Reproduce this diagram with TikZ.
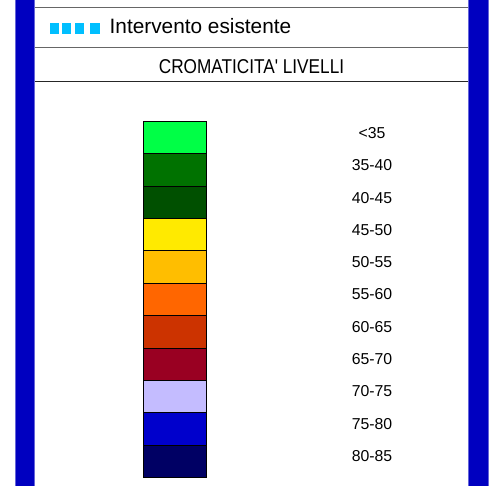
\documentclass[tikz,border=0pt]{standalone}
\usepackage{fontspec}
\setmainfont{Liberation Sans}
\definecolor{barblue}{RGB}{0,0,192}
\definecolor{cyanleg}{RGB}{0,191,255}
\definecolor{c1}{RGB}{0,255,70}
\definecolor{c2}{RGB}{0,114,0}
\definecolor{c3}{RGB}{0,80,0}
\definecolor{c4}{RGB}{255,234,0}
\definecolor{c5}{RGB}{255,190,0}
\definecolor{c6}{RGB}{255,102,0}
\definecolor{c7}{RGB}{204,51,0}
\definecolor{c8}{RGB}{153,0,34}
\definecolor{c9}{RGB}{196,188,255}
\definecolor{c10}{RGB}{0,0,204}
\definecolor{c11}{RGB}{0,0,100}
\begin{document}
\begin{tikzpicture}[x=1pt,y=-1pt,
  sideline/.style={draw=black!85,line width=0.9pt},
  bar/.style={fill=barblue,draw=barblue!60!white,line width=0.5pt},
  legsq/.style={fill=cyanleg,draw=none},
  swatch/.style={draw=black,line width=0.8pt,minimum width=63pt,minimum height=32.36pt,inner sep=0pt,anchor=north west},
  lvl/.style={font=\fontsize{15.8}{16}\selectfont,anchor=center,inner sep=0pt}]
\useasboundingbox (0,0) rectangle (503,485);
\fill[white] (0,0) rectangle (503,485);
% horizontal lines
\draw[sideline,draw=black!60] (34,7.5) -- (468,7.5);
\draw[sideline,draw=black!60] (34,47.7) -- (468,47.7);
\draw[sideline] (34,81.7) -- (468,81.7);
% side bars
\path[bar] (15,-2) rectangle (34.5,487);
\path[bar] (468.3,-2) rectangle (488.2,487);
% legend
\fill[legsq] (49.5,22.5) rectangle (58.5,34.3);
\fill[legsq] (62,22.5) rectangle (71,34.3);
\fill[legsq] (74.5,22.5) rectangle (83.5,34.3);
\fill[legsq] (89.5,22.5) rectangle (100,34.3);
\node[anchor=base west,inner sep=0pt,font=\fontsize{20.8}{22}\selectfont] (leg) at (109.5,33.8) {Intervento esistente};
\node[anchor=base,inner sep=0pt,font=\fontsize{20}{22}\selectfont,xscale=0.86] (title) at (251.5,73) {CROMATICITA\textquotesingle{} LIVELLI};
% swatches
\foreach \i/\lab in {1/{<35},2/35-40,3/40-45,4/45-50,5/50-55,6/55-60,7/60-65,8/65-70,9/70-75,10/75-80,11/80-85}{
  \node[swatch,fill=c\i] (s\i) at (143,{121+(\i-1)*32.36}) {};
  \node[lvl] (l\i) at (372,{133+(\i-1)*32.3}) {\lab};
}
\end{tikzpicture}
\end{document}
